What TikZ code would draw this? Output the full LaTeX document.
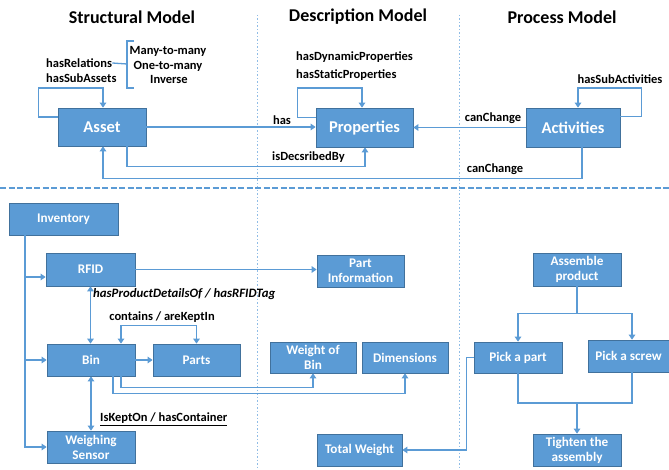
\documentclass[tikz,border=0pt]{standalone}
\usepackage{fontspec}
\setmainfont{Carlito}
\usetikzlibrary{arrows.meta,calc}
\definecolor{boxfill}{HTML}{5B9BD5}
\definecolor{boxborder}{HTML}{41719C}
\definecolor{linecol}{HTML}{5B9BD5}
\definecolor{dotcol}{HTML}{8FBCE6}
\tikzset{
  boxa/.style={draw=boxborder, fill=boxfill, line width=0.7pt, text=white, inner sep=0pt, align=center, font=\fontsize{16.5}{18}\selectfont\bfseries},
  boxb/.style={draw=boxborder, fill=boxfill, line width=0.7pt, text=white, inner sep=0pt, align=center, font=\fontsize{13.2}{15}\selectfont\bfseries},
  lbl/.style={text=black, inner sep=0pt, font=\fontsize{12.5}{14}\selectfont\bfseries},
  ttl/.style={text=black, inner sep=0pt, font=\fontsize{18}{20}\selectfont\bfseries},
  conn/.style={draw=linecol, line width=1.5pt},
  arr/.style={-{Triangle[length=5pt,width=6.5pt]}},
  darr/.style={{Triangle[length=5pt,width=6.5pt]}-{Triangle[length=5pt,width=6.5pt]}},
}
\begin{document}
\begin{tikzpicture}[x=1pt,y=-1pt]
\useasboundingbox (0,0) rectangle (669,470);
% separators
\draw[dotcol, line width=1pt, dash pattern=on 1.5pt off 2pt] (257,15) -- (257,470);
\draw[dotcol, line width=1pt, dash pattern=on 1.5pt off 2pt] (459,15) -- (459,470);
\draw[linecol, line width=1.5pt, dash pattern=on 6pt off 2.5pt] (0,188) -- (669,188);
% titles
\node[ttl] (t1) at (132,17) {Structural Model};
\node[ttl] (t2) at (358,17) {Description Model};
\node[ttl] (t3) at (562,17) {Process Model};
% top boxes
\node[boxa, minimum width=88pt, minimum height=38pt] (asset) at (102,127) {Asset};
\node[boxa, minimum width=97pt, minimum height=39pt] (props) at (364.5,127.5) {Properties};
\node[boxa, minimum width=94pt, minimum height=39pt] (acts) at (573,127.5) {Activities};
% top labels
\node[lbl, anchor=west] (hr) at (46,63) {hasRelations};
\node[lbl, anchor=west] (hs) at (46,78) {hasSubAssets};
\node[lbl] (m1) at (168,51) {Many-to-many};
\node[lbl] (m2) at (168,66) {One-to-many};
\node[lbl] (m3) at (169,79) {Inverse};
\node[lbl, anchor=west] (hd) at (296,57) {hasDynamicProperties};
\node[lbl, anchor=west] (hst) at (296,75) {hasStaticProperties};
\node[lbl] (has) at (282,120) {has};
\node[lbl, anchor=west] (isd) at (272,157) {isDecsribedBy};
\node[lbl] (cc1) at (493,118) {canChange};
\node[lbl] (cc2) at (495,169) {canChange};
\node[lbl] (hsa) at (620,79) {hasSubActivities};
% bracket
\draw[conn, line width=1.3pt] (134,41) -- (127,41) -- (127,88) -- (134,88);
\draw[conn, line width=1.3pt] (hr.east) -- (127,64);
% top connectors
\draw[conn,arr] ([yshift=10pt]asset.west) -| ++(-19,-29) -| ([xshift=1pt]asset.north);
\draw[conn,arr] ([yshift=10pt]props.west) -| ++(-18,-29.5) -| ([xshift=-2.5pt]props.north);
\draw[conn,arr] ([yshift=11pt]acts.east) -| ++(21,-28.5) -| ([xshift=5pt]acts.north);
\draw[conn,arr] (asset.east) -- (asset.east -| props.west);
\draw[conn,arr] (acts.west) -- (props.east);
\draw[conn,arr] ([xshift=25pt]asset.south) -- ++(0,20) -| ([xshift=0.5pt]props.south);
\draw[conn,arr] ([xshift=9pt]acts.south) -- ++(0,31) -| ([xshift=1pt]asset.south);
% bottom boxes
\node[boxb, minimum width=109pt, minimum height=32pt] (inv) at (63.5,219) {Inventory};
\node[boxb, minimum width=89pt, minimum height=33pt] (rfid) at (90.5,269.5) {RFID};
\node[boxb, minimum width=88pt, minimum height=32pt] (bin) at (91,360) {Bin};
\node[boxb, minimum width=87pt, minimum height=32pt] (parts) at (196.5,360) {Parts};
\node[boxb, minimum width=88pt, minimum height=32pt] (weigh) at (91,447) {Weighing\\Sensor};
\node[boxb, minimum width=87pt, minimum height=32pt] (pinfo) at (360.5,271) {Part\\Information};
\node[boxb, minimum width=86pt, minimum height=31pt] (wob) at (313,357.5) {Weight of\\Bin};
\node[boxb, minimum width=86pt, minimum height=31pt] (dim) at (405,357.5) {Dimensions};
\node[boxb, minimum width=85pt, minimum height=32pt] (tw) at (359.5,450) {Total Weight};
\node[boxb, minimum width=88pt, minimum height=33pt] (asm) at (577,269.5) {Assemble\\product};
\node[boxb, minimum width=88pt, minimum height=31pt] (pp) at (518,357.5) {Pick a part};
\node[boxb, minimum width=81pt, minimum height=32pt] (ps) at (628.5,356) {Pick a screw};
\node[boxb, minimum width=88pt, minimum height=32pt] (tight) at (577,450) {Tighten the\\assembly};
% bottom labels
\node[lbl, anchor=west, font=\fontsize{12.8}{14}\selectfont\bfseries\itshape] (hpd) at (93,294) {hasProductDetailsOf / hasRFIDTag};
\node[lbl] (cont) at (162,317) {contains / areKeptIn};
\node[lbl, anchor=west] (iko) at (100,419) {\underline{IsKeptOn / hasContainer}};
% bottom connectors
\coordinate (trunk) at ([xshift=-38.5pt]inv.south);
\coordinate (rfidin) at ([yshift=-7.5pt]rfid.west);
\draw[conn,arr] (trunk) |- (weigh.west);
\draw[conn,arr] (trunk |- rfidin) -- (rfidin);
\draw[conn,arr] (trunk |- bin.west) -- (bin.west);
\draw[conn,arr] (rfid.east) -- (rfid.east -| pinfo.west);
\draw[conn,darr] (rfid.south) -- (rfid.south |- bin.north);
\draw[conn,darr] (bin.south) -- (weigh.north);
\draw[conn,darr] ([xshift=30pt]bin.north) -- ++(0,-18) -| (parts.north);
\draw[conn,arr] (bin.east) -- (parts.west);
\draw[conn,arr] ([xshift=30pt]bin.south) -- ++(0,11) -| (wob.south);
\draw[conn,arr] ([xshift=22pt]bin.south) -- ++(0,17) -| (dim.south);
% process
\coordinate (split) at ($(asm.south)+(0,27)$);
\coordinate (join) at (577,403);
\draw[conn,arr] (asm.south) -- (split) -| (pp.north);
\draw[conn,arr] (split) -| ([xshift=3.5pt]ps.north);
\draw[conn] (pp.south) |- (join);
\draw[conn] ([xshift=3.5pt]ps.south) |- (join);
\draw[conn,arr] (join) -- (tight.north);
\draw[conn,arr] (pp.west) -- ++(-7,0) |- (tw.east);
\end{tikzpicture}
\end{document}
